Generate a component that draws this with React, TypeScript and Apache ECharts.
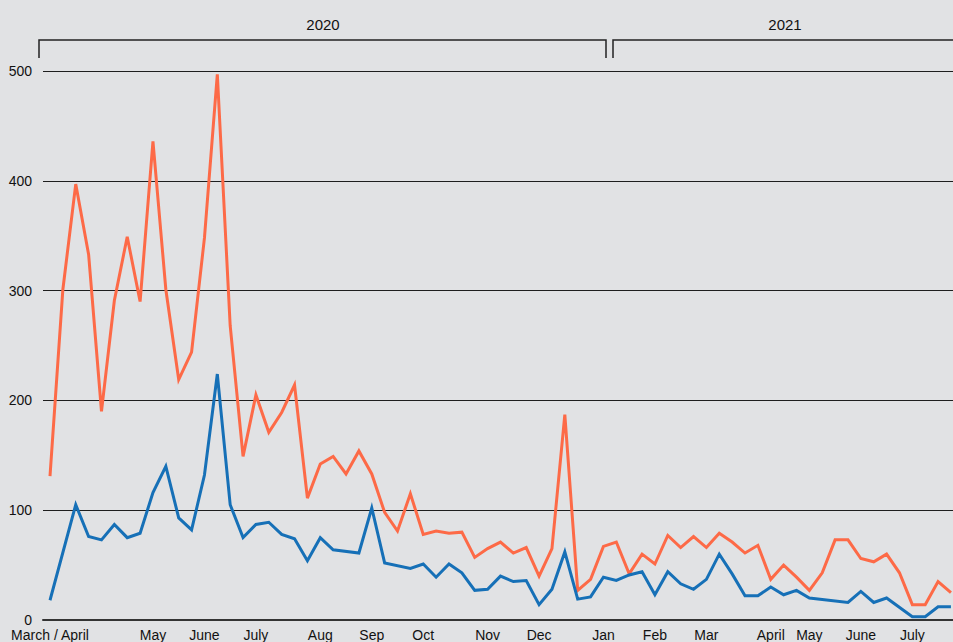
import React, { useEffect, useRef } from "react";
import * as echarts from "echarts";

// Weekly values (index = week since start of March 2020)
const upperValues: (number | null)[] = [
  131, 301, 397, 333, 190, 291, 349, 290, 436, 301,
  219, 244, 348, 497, 268, 149, 205, 171, 189, 214,
  111, 142, 149, 133, 154, 133, 98, 81, 115, 78,
  81, 79, 80, 57, 65, 71, 61, 66, 40, 65,
  187, 27, 37, 67, 71, 42, 60, 51, 77, 66,
  76, 66, 79, 71, 61, 68, 37, 50, 39, 27,
  43, 73, 73, 56, 53, 60, 43, 14, 14, 35, 25,
];

const lowerValues: (number | null)[] = [
  18, null, 105, 76, 73, 87, 75, 79, 116, 140,
  93, 82, 132, 224, 105, 75, 87, 89, 78, 74,
  54, 75, 64, null, 61, 102, 52, null, 47, 51,
  39, 51, 43, 27, 28, 40, 35, 36, 14, 28,
  62, 19, 21, 39, 36, 41, 44, 23, 44, 33,
  28, 37, 60, 42, 22, 22, 30, 23, 27, 20,
  null, null, 16, 26, 16, 20, null, 3, 3, 12, 12,
];

const monthLabels = [
  "March / April", "May", "June", "July", "Aug", "Sep", "Oct", "Nov", "Dec",
  "Jan", "Feb", "Mar", "April", "May", "June", "July",
];
const monthWeeks = [0, 8, 12, 16, 21, 25, 29, 34, 38, 43, 47, 51, 56, 59, 63, 67];

const yearLabels = ["2020", "2021"];

const FONT = "'Liberation Sans', Arial, Helvetica, sans-serif";
const BG = "#e1e2e4";
const ORANGE = "#fd6a47";
const BLUE = "#1670b7";

function toPairs(values: (number | null)[]) {
  return values
    .map((v, i) => [i, v] as [number, number | null])
    .filter((p) => p[1] !== null);
}

export default function App() {
  const ref = useRef<HTMLDivElement>(null);

  useEffect(() => {
    document.body.style.margin = "0";
    if (!ref.current) return;
    const chart = echarts.init(ref.current, null, { renderer: "svg" });

    const labelFor = (v: number) => {
      const k = monthWeeks.indexOf(Math.round(v));
      return k >= 0 ? monthLabels[k] : "";
    };

    chart.setOption({
      animation: false,
      backgroundColor: BG,
      grid: { left: 43, right: 0, top: 71, bottom: 22 },
      xAxis: {
        type: "value",
        min: -0.544,
        max: 70.16,
        axisLine: { show: true, lineStyle: { color: "#333", width: 2 } },
        axisTick: { show: false },
        splitLine: { show: false },
        axisLabel: {
          customValues: monthWeeks,
          formatter: (v: number) => labelFor(v),
          color: "#111",
          fontSize: 14,
          fontFamily: FONT,
          margin: 8,
        },
      },
      yAxis: {
        type: "value",
        min: 0,
        max: 500,
        interval: 100,
        axisLine: { show: false },
        axisTick: { show: false },
        splitLine: { lineStyle: { color: "#1e1e1e", width: 1 } },
        axisLabel: {
          color: "#111",
          fontSize: 14,
          fontFamily: FONT,
          margin: 11,
        },
      },
      graphic: [
        {
          type: "polyline",
          shape: { points: [[39, 58], [39, 40], [606, 40], [606, 58]] },
          style: { stroke: "#222", lineWidth: 1.5, fill: null },
        },
        {
          type: "polyline",
          shape: { points: [[613, 58], [613, 40], [953, 40]] },
          style: { stroke: "#222", lineWidth: 1.5, fill: null },
        },
        {
          type: "text",
          x: 323,
          y: 24,
          style: {
            text: yearLabels[0],
            fontSize: 15,
            fontFamily: FONT,
            fill: "#111",
            textAlign: "center",
            textVerticalAlign: "middle",
          },
        },
        {
          type: "text",
          x: 785,
          y: 24,
          style: {
            text: yearLabels[1],
            fontSize: 15,
            fontFamily: FONT,
            fill: "#111",
            textAlign: "center",
            textVerticalAlign: "middle",
          },
        },
      ],
      series: [
        {
          type: "line",
          data: toPairs(upperValues),
          symbol: "none",
          lineStyle: { color: ORANGE, width: 3, join: "miter" },
          z: 3,
        },
        {
          type: "line",
          data: toPairs(lowerValues),
          symbol: "none",
          lineStyle: { color: BLUE, width: 3, join: "miter" },
          z: 4,
        },
      ],
    });

    return () => chart.dispose();
  }, []);

  return (
    <div
      ref={ref}
      style={{ position: "fixed", left: 0, top: 0, width: 953, height: 642, background: BG }}
    />
  );
}
